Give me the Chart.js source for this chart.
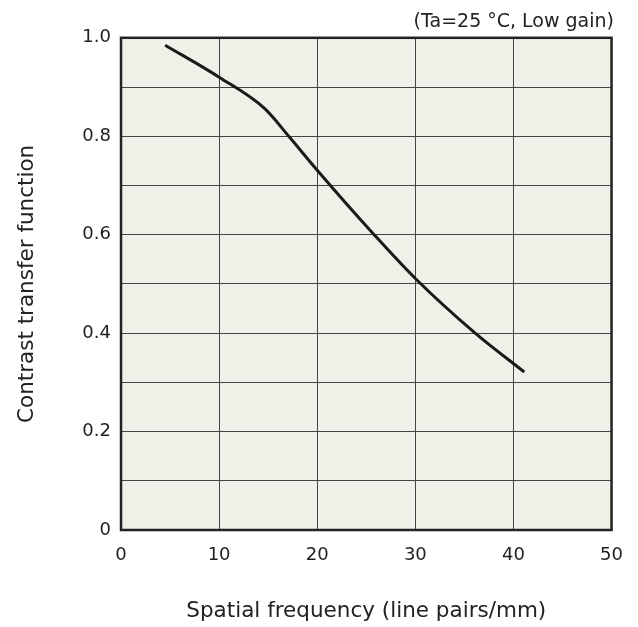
<!DOCTYPE html>
<html lang="en">
<head>
  <meta charset="UTF-8">
  <title>Contrast transfer function</title>
  <script src="https://cdn.jsdelivr.net/npm/chart.js"></script>
  <style>
    html, body { margin: 0; padding: 0; background: #fff; }
    #wrap { width: 638px; height: 627px; }
  </style>
</head>
<body>
<div id="wrap"><canvas id="ctf"></canvas></div>
<script>
  // values
  const freq = [4.5, 10, 14.6, 17.1, 20, 25.8, 30, 36.1, 41.1];
  const ctfValues = [0.985, 0.92, 0.857, 0.8, 0.731, 0.6, 0.511, 0.4, 0.321];
  const yTickLabels = ['0', '0.2', '0.4', '0.6', '0.8', '1.0'];
  const noteText = '(Ta=25 °C, Low gain)';
  const xTitle = 'Spatial frequency (line pairs/mm)';
  const yTitle = 'Contrast transfer function';

  const FONT = "'DejaVu Sans', Verdana, sans-serif";
  const INK = '#222';

  // beige plot background, heavy frame, axis titles centred on the plot area
  const frame = {
    id: 'frame',
    beforeDraw(chart) {
      const a = chart.chartArea, ctx = chart.ctx;
      ctx.save();
      ctx.fillStyle = '#f1f0e8';
      ctx.fillRect(a.left, a.top, a.right - a.left, a.bottom - a.top);
      ctx.restore();
    },
    afterDraw(chart) {
      const a = chart.chartArea, ctx = chart.ctx;
      ctx.save();
      ctx.strokeStyle = INK;
      ctx.lineWidth = 2.5;
      ctx.strokeRect(a.left, a.top, a.right - a.left, a.bottom - a.top);

      ctx.fillStyle = INK;
      ctx.font = '21.5px ' + FONT;
      ctx.textAlign = 'center';
      ctx.textBaseline = 'middle';
      ctx.fillText(xTitle, (a.left + a.right) / 2, 611);
      ctx.translate(27.5, (a.top + a.bottom) / 2);
      ctx.rotate(-Math.PI / 2);
      ctx.fillText(yTitle, 0, 0);
      ctx.restore();
    }
  };

  new Chart(document.getElementById('ctf'), {
    type: 'line',
    data: {
      datasets: [{
        data: freq.map((x, i) => ({x: x, y: ctfValues[i]})),
        borderColor: '#1a1a1a',
        borderWidth: 3,
        pointRadius: 0,
        cubicInterpolationMode: 'monotone',
        fill: false
      }]
    },
    options: {
      responsive: true,
      maintainAspectRatio: false,
      animation: false,
      layout: { padding: { left: 0, right: 24, top: 0, bottom: 0 } },
      plugins: {
        legend: { display: false },
        tooltip: { enabled: false },
        title: {
          display: true,
          text: noteText,
          align: 'end',
          color: INK,
          font: { family: FONT, size: 19, weight: 'normal' },
          padding: { top: 11, bottom: 4 }
        }
      },
      scales: {
        x: {
          type: 'linear',
          min: 0, max: 50,
          afterFit(s) { s.height = 97; },
          grid: { color: '#444', lineWidth: 1, drawTicks: false },
          border: { display: false },
          ticks: {
            stepSize: 10,
            padding: 15,
            color: INK,
            font: { family: FONT, size: 18 }
          }
        },
        y: {
          min: 0, max: 1,
          afterFit(s) { s.width = 121; },
          grid: { color: '#444', lineWidth: 1, drawTicks: false },
          border: { display: false },
          ticks: {
            stepSize: 0.1,
            padding: 10,
            color: INK,
            font: { family: FONT, size: 18 },
            callback: (v, i) => (i % 2 === 0 ? yTickLabels[i / 2] : '')
          }
        }
      }
    },
    plugins: [frame]
  });
</script>
</body>
</html>
